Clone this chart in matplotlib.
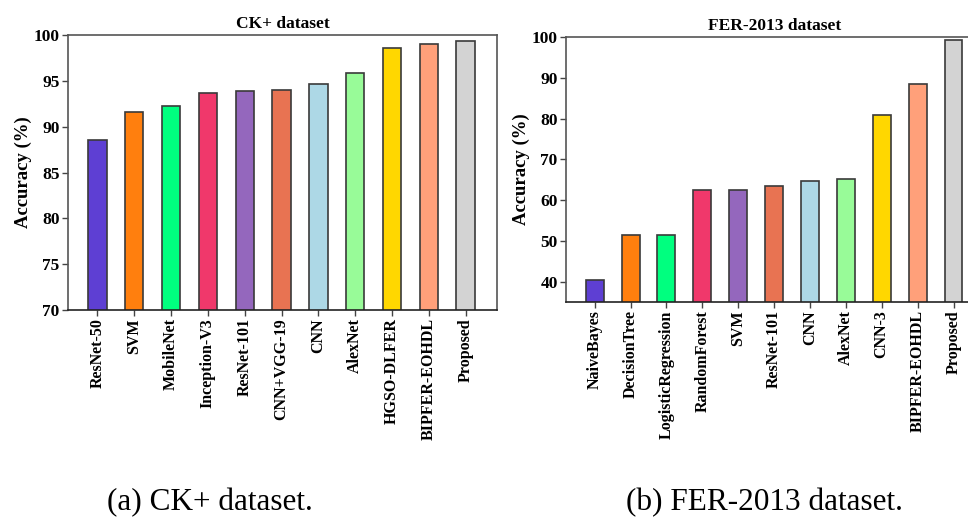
import matplotlib
matplotlib.use("Agg")
import matplotlib.pyplot as plt

plt.rcParams['font.family'] = ['Liberation Serif', 'DejaVu Serif']

# CK+ results
ck_models = ['ResNet-50', 'SVM', 'MobileNet', 'Inception-V3', 'ResNet-101',
             'CNN+VGG-19', 'CNN', 'AlexNet', 'HGSO-DLFER', 'BIPFER-EOHDL', 'Proposed']
ck_acc = [88.5, 91.6, 92.3, 93.7, 93.9, 94.0, 94.7, 95.9, 98.6, 99.05, 99.35]

# FER-2013 results
fer_models = ['NaiveBayes', 'DecisionTree', 'LogisticRegression', 'RandomForest', 'SVM',
              'ResNet-101', 'CNN', 'AlexNet', 'CNN-3', 'BIPFER-EOHDL', 'Proposed']
fer_acc = [40.4, 51.4, 51.4, 62.4, 62.45, 63.35, 64.65, 65.15, 80.75, 88.5, 99.3]

bar_colors = ['#5E3FD3', '#FF7F0E', '#00FF7F', '#F0386B', '#9467BD', '#E87352',
              '#ADD8E6', '#98FB98', '#FFD700', '#FFA07A', '#D3D3D3']

W, H = 968, 520
fig = plt.figure(figsize=(W / 100, H / 100), dpi=100)


def px_axes(x0, y0, x1, y1):
    return fig.add_axes([x0 / W, 1 - y1 / H, (x1 - x0) / W, (y1 - y0) / H])


def draw(ax, names, vals, title, ylim, yticks):
    xs = range(len(names))
    ax.bar(xs, vals, width=0.5, color=bar_colors, edgecolor='#3a3a3a', linewidth=1.2)
    ax.set_xlim(-0.8, 10.85)
    ax.set_ylim(*ylim)
    ax.set_yticks(yticks)
    ax.set_xticks(list(xs))
    ax.set_xticklabels(names, rotation=90, fontsize=11.5, fontweight='bold')
    for lab in ax.get_yticklabels():
        lab.set_fontsize(12.5)
        lab.set_fontweight('bold')
    ax.set_ylabel('Accuracy (%)', fontsize=13.5, fontweight='bold', labelpad=1)
    ax.set_title(title, fontsize=12.5, fontweight='bold', pad=5)
    for s in ax.spines.values():
        s.set_color('#555555')
        s.set_linewidth(1.2)
    ax.spines['bottom'].set_color('#222222')
    ax.tick_params(axis='both', direction='out', length=4, width=1, color='#444444', pad=2)


ax1 = px_axes(68, 35, 497, 310)
draw(ax1, ck_models, ck_acc, 'CK+ dataset', (70, 100), [70, 75, 80, 85, 90, 95, 100])

ax2 = px_axes(566, 37, 984, 302)
draw(ax2, fer_models, fer_acc, 'FER-2013 dataset', (35, 100), [40, 50, 60, 70, 80, 90, 100])

fig.text(210 / W, 1 - 503 / H, '(a) CK+ dataset.', ha='center', va='center', fontsize=22.5)
fig.text(764 / W, 1 - 503 / H, '(b) FER-2013 dataset.', ha='center', va='center', fontsize=22.5)

fig.savefig('out.png', dpi=100)
